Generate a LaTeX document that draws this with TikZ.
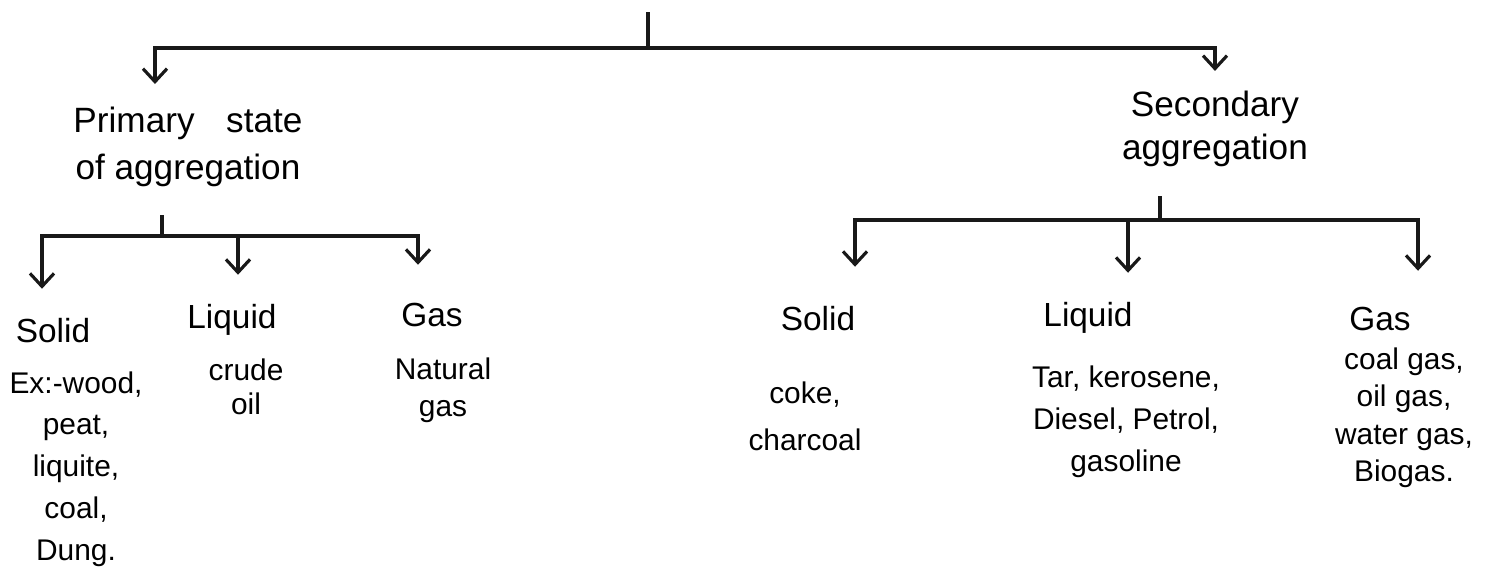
\documentclass[tikz,border=0pt]{standalone}
\usepackage{fontspec}
\setmainfont{Liberation Sans}
\usetikzlibrary{arrows.meta,positioning}
\tikzset{
  titulo/.style={align=center, inner sep=1pt, font=\fontsize{10}{#1}\selectfont},
  titulo/.default=13pt,
  rotulo/.style={anchor=base, inner sep=1pt, text height=2.5mm, text depth=0.6mm,
    font=\fontsize{9.5}{11.5}\selectfont},
  lista/.style={align=center, inner sep=1pt, font=\fontsize{8.5}{#1}\selectfont},
  lista/.default=11pt,
  traco/.style={line width=0.9pt, draw=black!90},
  seta/.style={traco, -{Straight Barb[length=1.3mm,width=2.4mm]}, shorten >=2.4mm}
}

\begin{document}
\begin{tikzpicture}[x=0.01cm, y=-0.01cm, node distance=1.5mm]
\useasboundingbox (0,0) rectangle (1490,575);
% topo
\coordinate (raiz) at (648,12);
\coordinate (j0) at (648,48);
\node[titulo=13.3pt] (p) at (188,147) {Primary\hspace{0.9em}state\\of aggregation};
\node[titulo=12.2pt] (s) at (1215,129) {Secondary\\aggregation};
% estado primario
\coordinate (j1) at (162,236);
\node[rotulo] (ps) at (53,342) {Solid};
\node[rotulo] (pl) at (232,328) {Liquid};
\node[rotulo] (pg) at (432,326) {Gas};
\node[lista=11.9pt, below=1.5mm of ps, xshift=2.3mm] (psx) {Ex:-wood,\\peat,\\liquite,\\coal,\\Dung.};
\node[lista=9.9pt, below=1.6mm of pl, xshift=1.4mm] (plx) {crude\\oil};
\node[lista=10.5pt, below=1.7mm of pg, xshift=1.1mm] (pgx) {Natural\\gas};
% agregacao secundaria
\coordinate (j2) at (1160,220);
\node[rotulo] (ss) at (818,330) {Solid};
\node[rotulo] (sl) at (1088,326) {Liquid};
\node[rotulo] (sg) at (1380,330) {Gas};
\node[lista=13.6pt, below=3.7mm of ss, xshift=-1.3mm] (ssx) {coke,\\charcoal};
\node[lista=12pt, below=2.5mm of sl, xshift=3.8mm] (slx) {Tar, kerosene,\\Diesel, Petrol,\\gasoline};
\node[lista=10.7pt, below=0.3mm of sg, xshift=2.4mm] (sgx) {coal gas,\\oil gas,\\water gas,\\Biogas.};
% ligacoes
\draw[traco] (raiz) -- (j0);
\draw[seta, shorten >=1.9mm] (j0) -| ([xshift=-3.3mm]p.north);
\draw[seta, shorten >=1.6mm] (j0) -| (s.north);
\draw[traco, shorten >=2.4mm] (j1) -- (j1 |- p.south);
\draw[traco, shorten >=2.5mm] (j2) -- (j2 |- s.south);
\draw[seta] (j1) -| ([xshift=-1.1mm]ps.north);
\draw[seta] (j1) -| ([xshift=0.6mm]pl.north);
\draw[seta, shorten >=3.2mm] (j1) -| ([xshift=-1.4mm]pg.north);
\draw[seta, shorten >=3.4mm] (j2) -| ([xshift=3.7mm]ss.north);
\draw[seta] (j2) -| ([xshift=4mm]sl.north);
\draw[seta, shorten >=3mm] (j2) -| ([xshift=3.8mm]sg.north);
\end{tikzpicture}
\end{document}
